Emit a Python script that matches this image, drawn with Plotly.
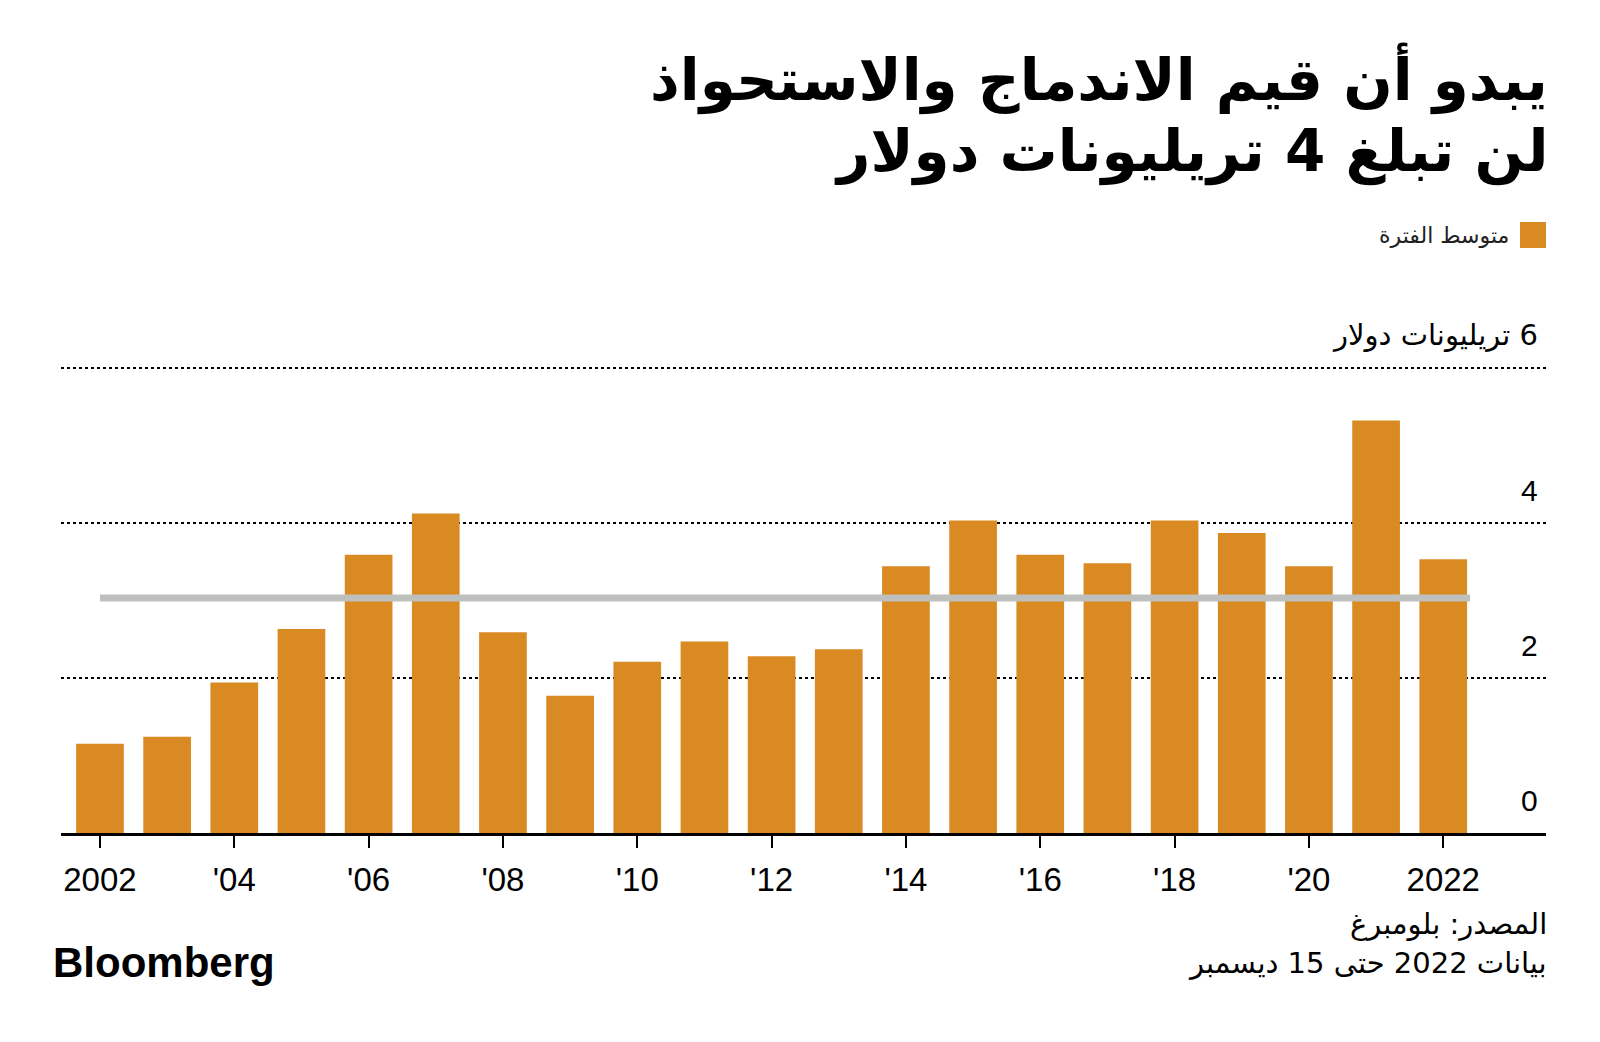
import plotly.graph_objects as go

# ---- data ----
years = list(range(2002, 2023))
deal_values = [1.15, 1.24, 1.94, 2.63, 3.59, 4.12, 2.59, 1.77, 2.21, 2.47, 2.28,
               2.37, 3.44, 4.03, 3.59, 3.48, 4.03, 3.87, 3.44, 5.32, 3.53]
period_average = 3.03
x_tick_vals = [2002, 2004, 2006, 2008, 2010, 2012, 2014, 2016, 2018, 2020, 2022]
x_tick_text = ["2002", "'04", "'06", "'08", "'10", "'12", "'14", "'16", "'18", "'20", "2022"]
y_tick_vals = [0, 2, 4, 6]
y_tick_text = ["0", "2", "4", "\u200f6 تريليونات دولار"]

title_line1 = "يبدو أن قيم الاندماج والاستحواذ"
title_line2 = "لن تبلغ 4 تريليونات دولار"
legend_text = "متوسط الفترة"
source_line1 = "المصدر: بلومبرغ"
source_line2 = "بيانات 2022 حتى 15 ديسمبر"

ORANGE = "#D98A23"
GRAY = "#BEC0BD"
ARABIC_FONT = "DejaVu Sans"
LATIN_FONT = "Liberation Sans"

W, H = 1600, 1042
OFF = 8  # page body margin
ML, MR, MT, MB = 61 - OFF, W - (1546 - OFF), 360 - OFF, H - (833 - OFF)
PLOT_H = H - MT - MB
PLOT_W = W - ML - MR
BAR_WIDTH = 0.71


def py(pix):
    return (H - MB - (pix - OFF)) / PLOT_H


def px(pix):
    return ((pix - OFF) - ML) / PLOT_W


fig = go.Figure()
fig.add_trace(go.Bar(x=years, y=deal_values, width=BAR_WIDTH, marker=dict(color=ORANGE, line=dict(width=0)),
                     showlegend=False, hoverinfo="x+y"))
fig.add_trace(go.Scatter(x=[years[0], years[-1] + 0.4], y=[period_average, period_average],
                         mode="lines", line=dict(color=GRAY, width=7), showlegend=False, hoverinfo="y"))

annotations = []
for v, t in zip(y_tick_vals, y_tick_text):
    annotations.append(dict(x=px(1540), xref="paper", y=v, yref="y", text=t, showarrow=False,
                            xanchor="right", yanchor="bottom", yshift=14,
                            font=dict(family=ARABIC_FONT if v == 6 else LATIN_FONT,
                                      size=30 if v != 6 else 29, color="#000")))

annotations += [
    dict(x=px(1550), xref="paper", y=py(79), yref="paper", text=title_line1, showarrow=False, xanchor="right",
         yanchor="middle", font=dict(family=ARABIC_FONT, size=58, color="#000", weight="bold")),
    dict(x=px(1550), xref="paper", y=py(151), yref="paper", text=title_line2, showarrow=False, xanchor="right",
         yanchor="middle", font=dict(family=ARABIC_FONT, size=58, color="#000", weight="bold")),
    dict(x=px(1511), xref="paper", y=py(236), yref="paper", text=legend_text, showarrow=False, xanchor="right",
         yanchor="middle", font=dict(family=ARABIC_FONT, size=22, color="#222")),
    dict(x=px(1549), xref="paper", y=py(924), yref="paper", text=source_line1, showarrow=False, xanchor="right",
         yanchor="middle", font=dict(family=ARABIC_FONT, size=29, color="#000")),
    dict(x=px(1549), xref="paper", y=py(963), yref="paper", text=source_line2, showarrow=False, xanchor="right",
         yanchor="middle", font=dict(family=ARABIC_FONT, size=29, color="#000")),
    dict(x=px(51), xref="paper", y=py(962), yref="paper", text="Bloomberg", showarrow=False, xanchor="left",
         yanchor="middle", font=dict(family=LATIN_FONT, size=42, color="#000", weight="bold")),
]

shapes = [dict(type="rect", xref="paper", yref="paper", x0=px(1520), x1=px(1546), y0=py(248), y1=py(222),
               fillcolor=ORANGE, line=dict(width=0))]

fig.update_layout(
    width=W, height=H,
    margin=dict(l=ML, r=MR, t=MT, b=MB),
    paper_bgcolor="white", plot_bgcolor="white",
    bargap=0.29,
    annotations=annotations, shapes=shapes,
    xaxis=dict(range=[years[0] - 0.58, years[-1] + 1.53], tickvals=x_tick_vals, ticktext=x_tick_text,
               ticks="outside", ticklen=12, tickwidth=2, tickcolor="#000", ticklabelstandoff=3,
               showline=True, linecolor="#000", linewidth=3, showgrid=False, zeroline=False,
               tickfont=dict(family=LATIN_FONT, size=33, color="#000"), fixedrange=True),
    yaxis=dict(range=[0, 6.1], tickvals=y_tick_vals, showticklabels=False, showgrid=True,
               gridcolor="#000", gridwidth=2, griddash="dot", zeroline=False, showline=False,
               fixedrange=True),
)

fig.write_html("out.html")
